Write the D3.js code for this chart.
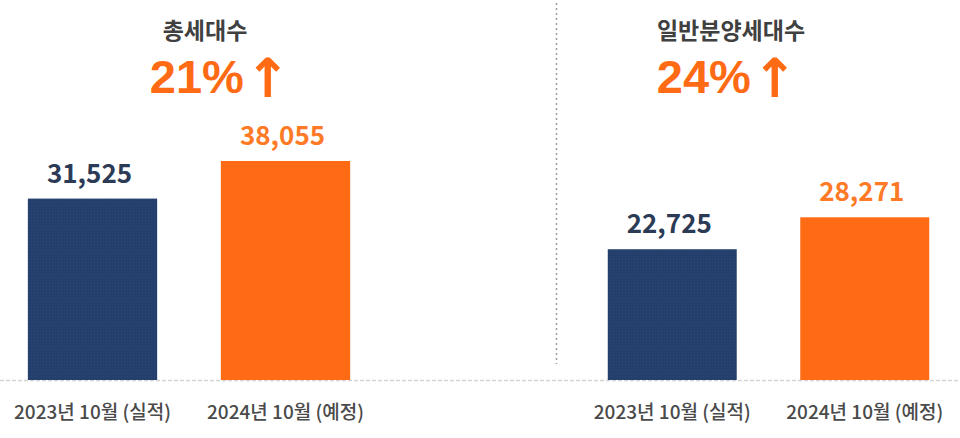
<!DOCTYPE html>
<html><head><meta charset="utf-8">
<script src="https://cdn.jsdelivr.net/npm/d3@7"></script>
<style>
html,body{margin:0;padding:0;background:#fff;}
text{font-family:"Noto Sans CJK KR","Malgun Gothic",sans-serif;}
text.growth{font-family:"Liberation Sans",Arial,sans-serif;}
tspan.arrow{font-family:"DejaVu Sans",sans-serif;}
</style></head>
<body><svg id="chart" width="960" height="438"></svg>
<script>
const categories = ["2023년 10월 (실적)", "2024년 10월 (예정)"];
const panelTitles = ["총세대수", "일반분양세대수"];
const growthLabels = ["21%", "24%"];
const growthArrow = "↑";
const totalUnits = [31525, 38055];
const generalSaleUnits = [22725, 28271];
const panels = [totalUnits, generalSaleUnits];

const svg = d3.select("#chart");
const W = 960, H = 438;
const baseY = 380, topY = 161;
const colors = ["#253f6d", "#ff6a14"];
const labelColors = ["#2b3a55", "#ff7a26"];

const y = d3.scaleLinear().domain([0, d3.max([...totalUnits, ...generalSaleUnits])]).range([baseY, topY]);

const panelRanges = [[-4, 382], [576, 961]];
const titleX = [205, 731];
const growthX = [220, 727];

const defs = svg.append("defs");
const pat = defs.append("pattern").attr("id","navyPat").attr("width",3).attr("height",3).attr("patternUnits","userSpaceOnUse");
pat.append("rect").attr("width",3).attr("height",3).attr("fill",colors[0]);
pat.append("rect").attr("x",1).attr("y",1).attr("width",1).attr("height",1).attr("fill","#2d4878");

svg.append("line").attr("x1",0).attr("x2",W).attr("y1",baseY+0.5).attr("y2",baseY+0.5)
  .attr("stroke","#d4d4d4").attr("stroke-width",1.5).attr("stroke-dasharray","4,2");

svg.append("line").attr("x1",556.5).attr("x2",556.5).attr("y1",3).attr("y2",364)
  .attr("stroke","#9a9a9a").attr("stroke-width",1.5).attr("stroke-dasharray","2,3");

panels.forEach((vals, p) => {
  const x = d3.scaleBand().domain(categories).range(panelRanges[p]).paddingInner(0.33).paddingOuter(0.165);
  const g = svg.append("g");
  const data = categories.map((c, i) => ({c, v: vals[i], i}));
  g.selectAll("rect.bar").data(data).join("rect").attr("class","bar")
    .attr("x", d => x(d.c)).attr("width", x.bandwidth())
    .attr("y", d => y(d.v)).attr("height", d => baseY - y(d.v))
    .attr("fill", d => d.i === 0 ? "url(#navyPat)" : colors[1]);
  g.selectAll("text.val").data(data).join("text").attr("class","val")
    .attr("x", d => x(d.c) + x.bandwidth()/2 - 3).attr("y", d => y(d.v) - 16)
    .attr("text-anchor","middle").attr("font-size", 26).attr("font-weight", 700)
    .attr("fill", d => labelColors[d.i]).text(d => d3.format(",")(d.v));
  g.selectAll("text.cat").data(data).join("text").attr("class","cat")
    .attr("x", d => x(d.c) + x.bandwidth()/2).attr("y", 419)
    .attr("text-anchor","middle").attr("font-size", 19).attr("font-weight", 500)
    .attr("fill","#4a4a4a").text(d => d.c);
  svg.append("text").attr("x", titleX[p]).attr("y", 39).attr("text-anchor","middle")
    .attr("font-size", 23).attr("font-weight", 700).attr("fill","#404040").text(panelTitles[p]);
  const gt = svg.append("text").attr("class","growth").attr("x", growthX[p]).attr("y", 93).attr("text-anchor","middle")
    .attr("font-size", 47).attr("font-weight", 700).attr("fill","#ff6a14");
  gt.append("tspan").text(growthLabels[p]);
  gt.append("tspan").attr("class","arrow").attr("font-size", 54).attr("dx", 1).attr("dy", 4).text(growthArrow);
});
</script></body></html>
